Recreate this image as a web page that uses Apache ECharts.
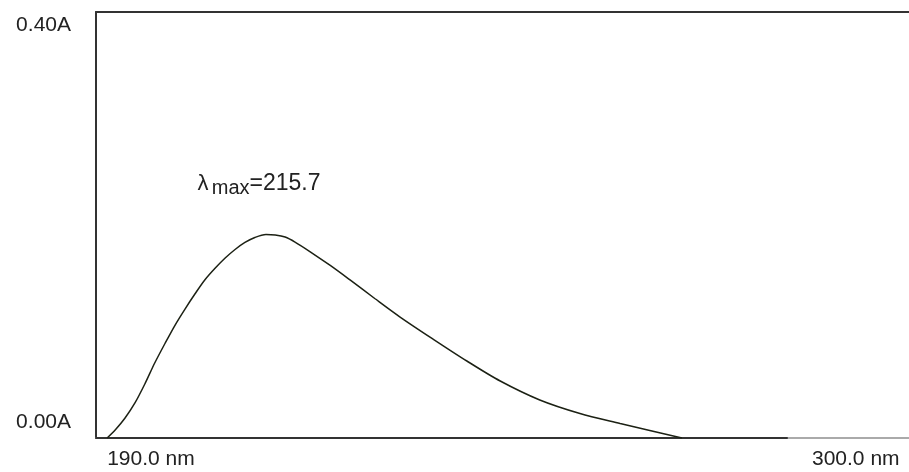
<!DOCTYPE html>
<html>
<head>
<meta charset="utf-8">
<script src="https://cdn.jsdelivr.net/npm/echarts@6/dist/echarts.min.js"></script>
<style>
  html, body { margin: 0; padding: 0; background: #fff; }
  #chart { width: 909px; height: 472px; }
</style>
</head>
<body>
<div id="chart"></div>
<script>
// wavelength (nm) and absorbance (A)
const wavelength = [190.0, 191.3, 192.9, 194.5, 196.1, 197.7, 199.4, 201.0, 202.6, 204.2, 205.8, 207.5,
  209.1, 210.7, 212.3, 213.9, 215.7, 217.2, 218.8, 220.4, 222.8, 226.1, 229.3, 233.3, 237.4, 242.7,
  248.2, 253.6, 260.0, 266.5, 273.0, 277.8, 283.0];
const absorbance = [0, 0.0075, 0.0188, 0.0329, 0.0507, 0.0704, 0.0892, 0.1061, 0.1211, 0.1352, 0.1484, 0.1596,
  0.1690, 0.1770, 0.1836, 0.1883, 0.1911, 0.1906, 0.1887, 0.1840, 0.1751, 0.1620, 0.1484, 0.1310, 0.1136, 0.0930,
  0.0723, 0.0535, 0.0357, 0.0230, 0.0136, 0.0070, 0];

const xTickValues = [190, 300];
const xTickLabels = ['190.0 nm', '300.0 nm'];
const yTickValues = [0, 0.4];
const yTickLabels = ['0.00A', '0.40A'];

const peakNm = 215.7;
const peakA = 0.1911;

const chart = echarts.init(document.getElementById('chart'));
const font = '"Liberation Sans", Arial, sans-serif';
const textColor = '#222';

chart.setOption({
  animation: false,
  backgroundColor: '#fff',
  textStyle: { fontFamily: font },
  grid: [
    { left: 96, right: 122, top: 12, bottom: 34 },
    { left: 96, right: 0, top: 12, bottom: 34 },
  ],
  xAxis: [
    {
      type: 'value',
      gridIndex: 0,
      min: 188.2,
      max: 300,
      z: 2,
      axisLine: { show: true, onZero: false, lineStyle: { color: '#333', width: 2 } },
      axisTick: { show: false },
      splitLine: { show: false },
      axisLabel: {
        customValues: xTickValues,
        align: 'left',
        margin: 11,
        color: textColor,
        fontSize: 21,
        formatter: (v) => {
          const i = xTickValues.indexOf(v);
          return i === 0 ? '{a|' + xTickLabels[0] + '}' : '{b|' + xTickLabels[1] + '}';
        },
        rich: {
          a: { fontSize: 21, color: textColor },
          b: { fontSize: 21, color: textColor, padding: [0, 0, 0, 25] },
        },
      },
    },
    {
      // light extension of the baseline past 300 nm
      type: 'value',
      gridIndex: 1,
      min: 0,
      max: 1,
      z: 0,
      axisLine: { show: true, onZero: false, lineStyle: { color: '#aaa', width: 2 } },
      axisTick: { show: false },
      axisLabel: { show: false },
      splitLine: { show: false },
    },
    {
      type: 'value',
      gridIndex: 1,
      position: 'top',
      min: 0,
      max: 1,
      axisLine: { show: true, onZero: false, lineStyle: { color: '#333', width: 2 } },
      axisTick: { show: false },
      axisLabel: { show: false },
      splitLine: { show: false },
    },
  ],
  yAxis: [
    {
      type: 'value',
      gridIndex: 0,
      min: 0,
      max: 0.4,
      axisLine: { show: true, onZero: false, lineStyle: { color: '#333', width: 2 } },
      axisTick: { show: false },
      splitLine: { show: false },
      axisLabel: {
        customValues: yTickValues,
        margin: 25,
        color: textColor,
        fontSize: 21,
        verticalAlignMinLabel: 'bottom',
        verticalAlignMaxLabel: 'top',
        formatter: (v) => {
          const i = yTickValues.indexOf(v);
          return i === 0 ? '{lo|' + yTickLabels[0] + '}' : '{hi|' + yTickLabels[1] + '}';
        },
        rich: {
          lo: { fontSize: 21, color: textColor, padding: [0, 0, 5, 0] },
          hi: { fontSize: 21, color: textColor, padding: [3, 0, 0, 0] },
        },
      },
    },
    {
      type: 'value',
      gridIndex: 1,
      min: 0,
      max: 1,
      show: false,
    },
  ],
  series: [
    {
      type: 'line',
      xAxisIndex: 0,
      yAxisIndex: 0,
      data: wavelength.map((w, i) => [w, absorbance[i]]),
      smooth: 0.3,
      symbol: 'none',
      lineStyle: { color: '#1c2114', width: 1.5 },
      z: 3,
      markPoint: {
        symbol: 'circle',
        symbolSize: 1,
        itemStyle: { color: 'rgba(0,0,0,0)' },
        data: [{ coord: [peakNm, peakA] }],
        label: {
          show: true,
          position: 'inside',
          offset: [-7, -49],
          formatter: () => '{l|λ} {s|max}{n|=' + peakNm.toFixed(1) + '}',
          rich: {
            l: { fontSize: 22, color: textColor, verticalAlign: 'bottom', padding: [0, 0, 4, 0] },
            s: { fontSize: 20, color: textColor, verticalAlign: 'bottom' },
            n: { fontSize: 23, color: textColor, verticalAlign: 'bottom', padding: [0, 0, 4, 0] },
          },
        },
      },
    },
  ],
});
</script>
</body>
</html>
